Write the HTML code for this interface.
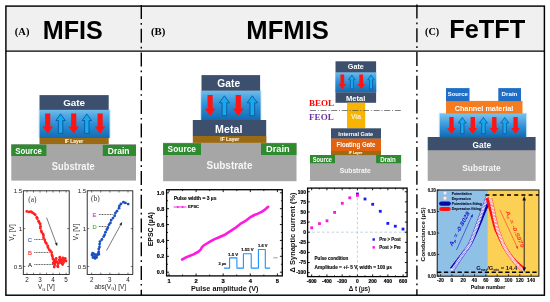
<!DOCTYPE html>
<html lang="en"><head><meta charset="utf-8"><title>FeFET synaptic devices: MFIS, MFMIS, FeTFT</title>
<style>html,body{margin:0;padding:0;background:#fff;}svg{display:block;}</style></head><body>
<svg width="550" height="302" viewBox="0 0 550 302">
<defs>
<linearGradient id="fe" x1="0" y1="0" x2="0" y2="1"><stop offset="0" stop-color="#74beea"/><stop offset="0.2" stop-color="#50a9e3"/><stop offset="0.5" stop-color="#2c90d6"/><stop offset="0.85" stop-color="#1a76be"/><stop offset="1" stop-color="#176aab"/></linearGradient>
<linearGradient id="fe2" x1="0" y1="0" x2="0" y2="1"><stop offset="0" stop-color="#7cc2ec"/><stop offset="0.25" stop-color="#5aaee4"/><stop offset="0.55" stop-color="#2f92d7"/><stop offset="0.85" stop-color="#1a78c0"/><stop offset="1" stop-color="#1668a8"/></linearGradient>
</defs>
<rect x="0.00" y="0.00" width="550.00" height="302.00" fill="#fff" />
<rect x="6.00" y="6.00" width="538.50" height="45.20" fill="#f0f0f0" />
<rect x="5.9" y="6.1" width="538.5" height="289.1" fill="none" stroke="#000" stroke-width="1.45"/>
<line x1="5.9" y1="51.2" x2="544.4" y2="51.2" stroke="#000" stroke-width="1.25"/>
<line x1="141.3" y1="5.0" x2="141.3" y2="295" stroke="#000" stroke-width="1.4" stroke-dasharray="14 4 1.7 4.02"/>
<line x1="416.9" y1="4.6" x2="416.9" y2="295" stroke="#000" stroke-width="1.4" stroke-dasharray="14 4 1.7 4.02"/>
<text x="14.80" y="35.20" font-size="10.4" fill="#000" font-weight="bold" font-family='"Liberation Serif", serif' text-anchor="start" textLength="14.60" lengthAdjust="spacingAndGlyphs" >(A)</text>
<text x="42.80" y="39.20" font-size="25.2" fill="#000" font-weight="bold" font-family='"Liberation Sans", sans-serif' text-anchor="start" textLength="60.00" lengthAdjust="spacingAndGlyphs" >MFIS</text>
<text x="151.00" y="35.20" font-size="10.4" fill="#000" font-weight="bold" font-family='"Liberation Serif", serif' text-anchor="start" textLength="14.40" lengthAdjust="spacingAndGlyphs" >(B)</text>
<text x="246.30" y="39.00" font-size="25.2" fill="#000" font-weight="bold" font-family='"Liberation Sans", sans-serif' text-anchor="start" textLength="82.60" lengthAdjust="spacingAndGlyphs" >MFMIS</text>
<text x="425.00" y="35.30" font-size="9.4" fill="#000" font-weight="bold" font-family='"Liberation Serif", serif' text-anchor="start" textLength="14.20" lengthAdjust="spacingAndGlyphs" >(C)</text>
<text x="449.20" y="38.20" font-size="25.4" fill="#000" font-weight="bold" font-family='"Liberation Sans", sans-serif' text-anchor="start" textLength="76.20" lengthAdjust="spacingAndGlyphs" >FeTFT</text>
<rect x="11.30" y="144.10" width="124.70" height="36.50" fill="#a6a6a6" />
<rect x="38.30" y="109.70" width="72.50" height="28.40" fill="#9fd0f0" opacity="0.35"/>
<rect x="39.50" y="109.70" width="70.10" height="28.40" fill="url(#fe)" />
<rect x="39.50" y="95.10" width="69.20" height="14.80" fill="#3c506e" />
<rect x="39.50" y="138.00" width="69.20" height="6.20" fill="#9b6a14" />
<rect x="11.30" y="144.60" width="35.10" height="11.40" fill="#2f8a30" />
<rect x="102.80" y="144.90" width="33.20" height="11.10" fill="#2f8a30" />
<polygon points="45.10,113.60 50.30,113.60 50.30,126.50 52.90,126.50 47.70,133.70 42.50,126.50 45.10,126.50" fill="#ff1414"/>
<polygon points="58.40,133.40 62.80,133.40 62.80,120.50 65.30,120.50 60.60,113.90 55.90,120.50 58.40,120.50" fill="#17a9ef" stroke="#0b4f94" stroke-width="0.8" stroke-linejoin="miter"/>
<polygon points="71.10,113.60 76.30,113.60 76.30,126.50 78.90,126.50 73.70,133.70 68.50,126.50 71.10,126.50" fill="#ff1414"/>
<polygon points="84.60,133.40 89.00,133.40 89.00,120.50 91.50,120.50 86.80,113.90 82.10,120.50 84.60,120.50" fill="#17a9ef" stroke="#0b4f94" stroke-width="0.8" stroke-linejoin="miter"/>
<polygon points="97.50,113.60 102.70,113.60 102.70,126.50 105.30,126.50 100.10,133.70 94.90,126.50 97.50,126.50" fill="#ff1414"/>
<text x="74.10" y="106.40" font-size="9.8" fill="#fff" font-weight="bold" font-family='"Liberation Sans", sans-serif' text-anchor="middle" textLength="21.90" lengthAdjust="spacingAndGlyphs" >Gate</text>
<text x="74.00" y="142.90" font-size="5.0" fill="#fbf0d8" font-weight="bold" font-family='"Liberation Sans", sans-serif' text-anchor="middle" stroke="#fbf0d8" stroke-width="0.12" textLength="18.50" lengthAdjust="spacingAndGlyphs" >IF Layer</text>
<text x="28.60" y="153.80" font-size="9.2" fill="#fff" font-weight="bold" font-family='"Liberation Sans", sans-serif' text-anchor="middle" textLength="26.60" lengthAdjust="spacingAndGlyphs" >Source</text>
<text x="118.60" y="153.80" font-size="9.2" fill="#fff" font-weight="bold" font-family='"Liberation Sans", sans-serif' text-anchor="middle" textLength="21.60" lengthAdjust="spacingAndGlyphs" >Drain</text>
<text x="73.30" y="169.50" font-size="10.4" fill="#f6f6f6" font-weight="bold" font-family='"Liberation Sans", sans-serif' text-anchor="middle" textLength="42.90" lengthAdjust="spacingAndGlyphs" >Substrate</text>
<rect x="163.10" y="142.80" width="133.40" height="38.40" fill="#a6a6a6" />
<rect x="200.00" y="90.40" width="61.80" height="29.80" fill="#9fd0f0" opacity="0.35"/>
<rect x="201.20" y="90.40" width="59.40" height="29.80" fill="url(#fe)" />
<rect x="201.50" y="75.10" width="58.60" height="15.60" fill="#3c506e" />
<rect x="192.80" y="120.00" width="73.40" height="16.20" fill="#3c506e" />
<rect x="192.80" y="136.00" width="73.60" height="6.90" fill="#9b6a14" />
<rect x="163.10" y="143.20" width="37.90" height="11.80" fill="#2f8a30" />
<rect x="261.00" y="143.20" width="35.50" height="11.80" fill="#2f8a30" />
<polygon points="207.50,95.00 212.70,95.00 212.70,108.40 215.50,108.40 210.10,116.00 204.70,108.40 207.50,108.40" fill="#ff1414"/>
<polygon points="222.10,115.70 226.70,115.70 226.70,102.80 229.50,102.80 224.40,95.80 219.30,102.80 222.10,102.80" fill="#17a9ef" stroke="#0b4f94" stroke-width="0.8" stroke-linejoin="miter"/>
<polygon points="235.70,95.00 240.90,95.00 240.90,108.40 243.70,108.40 238.30,116.00 232.90,108.40 235.70,108.40" fill="#ff1414"/>
<polygon points="250.00,115.70 254.60,115.70 254.60,102.80 257.40,102.80 252.30,95.80 247.20,102.80 250.00,102.80" fill="#17a9ef" stroke="#0b4f94" stroke-width="0.8" stroke-linejoin="miter"/>
<text x="228.70" y="87.00" font-size="10.2" fill="#fff" font-weight="bold" font-family='"Liberation Sans", sans-serif' text-anchor="middle" textLength="22.80" lengthAdjust="spacingAndGlyphs" >Gate</text>
<text x="228.70" y="132.80" font-size="10.4" fill="#fff" font-weight="bold" font-family='"Liberation Sans", sans-serif' text-anchor="middle" textLength="27.30" lengthAdjust="spacingAndGlyphs" >Metal</text>
<text x="229.80" y="141.30" font-size="5.0" fill="#fbf0d8" font-weight="bold" font-family='"Liberation Sans", sans-serif' text-anchor="middle" stroke="#fbf0d8" stroke-width="0.12" textLength="18.90" lengthAdjust="spacingAndGlyphs" >IF Layer</text>
<text x="181.80" y="152.40" font-size="9.4" fill="#fff" font-weight="bold" font-family='"Liberation Sans", sans-serif' text-anchor="middle" textLength="28.40" lengthAdjust="spacingAndGlyphs" >Source</text>
<text x="277.90" y="152.40" font-size="9.4" fill="#fff" font-weight="bold" font-family='"Liberation Sans", sans-serif' text-anchor="middle" textLength="23.60" lengthAdjust="spacingAndGlyphs" >Drain</text>
<text x="229.50" y="168.90" font-size="10.6" fill="#f6f6f6" font-weight="bold" font-family='"Liberation Sans", sans-serif' text-anchor="middle" textLength="46.00" lengthAdjust="spacingAndGlyphs" >Substrate</text>
<rect x="310.00" y="155.00" width="91.10" height="26.00" fill="#a6a6a6" />
<rect x="335.30" y="72.00" width="41.00" height="20.50" fill="url(#fe)" />
<rect x="335.50" y="61.30" width="40.60" height="11.00" fill="#3c506e" />
<rect x="335.50" y="92.30" width="40.60" height="10.50" fill="#3c506e" />
<rect x="347.00" y="102.70" width="18.20" height="25.70" fill="#f7b500" />
<rect x="331.00" y="128.30" width="50.00" height="10.50" fill="#3c506e" />
<rect x="331.00" y="138.70" width="50.00" height="12.40" fill="#e2620e" />
<rect x="331.00" y="151.00" width="50.00" height="4.10" fill="#9b6a14" />
<rect x="310.00" y="155.00" width="25.00" height="8.20" fill="#2f8a30" />
<rect x="376.10" y="155.00" width="25.00" height="8.20" fill="#2f8a30" />
<polygon points="340.40,74.50 344.20,74.50 344.20,84.00 346.10,84.00 342.30,89.20 338.50,84.00 340.40,84.00" fill="#ff1414"/>
<polygon points="350.40,89.00 353.40,89.00 353.40,79.80 355.20,79.80 351.90,75.00 348.60,79.80 350.40,79.80" fill="#17a9ef" stroke="#0b4f94" stroke-width="0.65" stroke-linejoin="miter"/>
<polygon points="359.30,74.50 363.10,74.50 363.10,84.00 365.00,84.00 361.20,89.20 357.40,84.00 359.30,84.00" fill="#ff1414"/>
<polygon points="369.50,89.00 372.50,89.00 372.50,79.80 374.30,79.80 371.00,75.00 367.70,79.80 369.50,79.80" fill="#17a9ef" stroke="#0b4f94" stroke-width="0.65" stroke-linejoin="miter"/>
<text x="355.80" y="69.30" font-size="6.9" fill="#fff" font-weight="bold" font-family='"Liberation Sans", sans-serif' text-anchor="middle" textLength="16.00" lengthAdjust="spacingAndGlyphs" >Gate</text>
<text x="355.60" y="100.50" font-size="6.9" fill="#fff" font-weight="bold" font-family='"Liberation Sans", sans-serif' text-anchor="middle" textLength="19.40" lengthAdjust="spacingAndGlyphs" >Metal</text>
<text x="356.00" y="118.70" font-size="6.6" fill="#fff3d0" font-weight="bold" font-family='"Liberation Sans", sans-serif' text-anchor="middle" textLength="10.00" lengthAdjust="spacingAndGlyphs" >Via</text>
<text x="355.80" y="136.30" font-size="5.4" fill="#fff" font-weight="bold" font-family='"Liberation Sans", sans-serif' text-anchor="middle" textLength="35.00" lengthAdjust="spacingAndGlyphs" >Internal Gate</text>
<text x="356.00" y="147.00" font-size="6.4" fill="#fff" font-weight="bold" font-family='"Liberation Sans", sans-serif' text-anchor="middle" textLength="39.00" lengthAdjust="spacingAndGlyphs" >Floating Gate</text>
<text x="355.60" y="154.40" font-size="3.5" fill="#fbf0d8" font-weight="bold" font-family='"Liberation Sans", sans-serif' text-anchor="middle" stroke="#fbf0d8" stroke-width="0.1" textLength="13.50" lengthAdjust="spacingAndGlyphs" >IF Layer</text>
<text x="322.40" y="161.70" font-size="6.3" fill="#fff" font-weight="bold" font-family='"Liberation Sans", sans-serif' text-anchor="middle" textLength="19.20" lengthAdjust="spacingAndGlyphs" >Source</text>
<text x="388.00" y="161.70" font-size="6.3" fill="#fff" font-weight="bold" font-family='"Liberation Sans", sans-serif' text-anchor="middle" textLength="15.70" lengthAdjust="spacingAndGlyphs" >Drain</text>
<text x="355.20" y="172.80" font-size="7.2" fill="#f6f6f6" font-weight="bold" font-family='"Liberation Sans", sans-serif' text-anchor="middle" textLength="31.00" lengthAdjust="spacingAndGlyphs" >Substrate</text>
<text x="309.10" y="106.30" font-size="8.6" fill="#ff0000" font-weight="bold" font-family='"Liberation Serif", serif' text-anchor="start" textLength="25.00" lengthAdjust="spacingAndGlyphs" >BEOL</text>
<text x="309.10" y="119.60" font-size="8.6" fill="#7030a0" font-weight="bold" font-family='"Liberation Serif", serif' text-anchor="start" textLength="24.60" lengthAdjust="spacingAndGlyphs" >FEOL</text>
<line x1="310" y1="110.5" x2="402" y2="110.5" stroke="#555" stroke-width="0.75" stroke-dasharray="6 1.8 1 1.8"/>
<rect x="427.70" y="150.00" width="107.90" height="30.90" fill="#a6a6a6" />
<rect x="427.70" y="137.00" width="107.90" height="13.20" fill="#3c506e" />
<rect x="438.60" y="112.60" width="88.70" height="24.60" fill="#9fd0f0" opacity="0.35"/>
<rect x="439.70" y="113.40" width="86.50" height="23.80" fill="url(#fe2)" />
<rect x="446.00" y="100.90" width="76.50" height="12.80" fill="#f57c1f" />
<rect x="446.00" y="88.10" width="23.50" height="13.00" fill="#1f6ec6" />
<rect x="498.30" y="88.10" width="22.70" height="13.00" fill="#1f6ec6" />
<polygon points="449.30,117.00 453.70,117.00 453.70,128.00 455.90,128.00 451.50,134.00 447.10,128.00 449.30,128.00" fill="#ff1414"/>
<polygon points="460.60,133.70 464.00,133.70 464.00,123.00 466.30,123.00 462.30,117.40 458.30,123.00 460.60,123.00" fill="#17a9ef" stroke="#0b4f94" stroke-width="0.7" stroke-linejoin="miter"/>
<polygon points="470.60,117.00 475.00,117.00 475.00,128.00 477.20,128.00 472.80,134.00 468.40,128.00 470.60,128.00" fill="#ff1414"/>
<polygon points="481.70,133.70 485.10,133.70 485.10,123.00 487.40,123.00 483.40,117.40 479.40,123.00 481.70,123.00" fill="#17a9ef" stroke="#0b4f94" stroke-width="0.7" stroke-linejoin="miter"/>
<polygon points="492.10,117.00 496.50,117.00 496.50,128.00 498.70,128.00 494.30,134.00 489.90,128.00 492.10,128.00" fill="#ff1414"/>
<polygon points="503.00,133.70 506.40,133.70 506.40,123.00 508.70,123.00 504.70,117.40 500.70,123.00 503.00,123.00" fill="#17a9ef" stroke="#0b4f94" stroke-width="0.7" stroke-linejoin="miter"/>
<polygon points="513.40,117.00 517.80,117.00 517.80,128.00 520.00,128.00 515.60,134.00 511.20,128.00 513.40,128.00" fill="#ff1414"/>
<text x="457.80" y="96.30" font-size="6.2" fill="#fff" font-weight="bold" font-family='"Liberation Sans", sans-serif' text-anchor="middle" textLength="20.20" lengthAdjust="spacingAndGlyphs" >Source</text>
<text x="509.50" y="96.30" font-size="6.2" fill="#fff" font-weight="bold" font-family='"Liberation Sans", sans-serif' text-anchor="middle" textLength="15.80" lengthAdjust="spacingAndGlyphs" >Drain</text>
<text x="484.00" y="110.50" font-size="7.6" fill="#fff" font-weight="bold" font-family='"Liberation Sans", sans-serif' text-anchor="middle" textLength="58.70" lengthAdjust="spacingAndGlyphs" >Channel material</text>
<text x="481.80" y="147.70" font-size="8.3" fill="#fff" font-weight="bold" font-family='"Liberation Sans", sans-serif' text-anchor="middle" textLength="18.60" lengthAdjust="spacingAndGlyphs" >Gate</text>
<text x="481.40" y="171.10" font-size="8.8" fill="#f6f6f6" font-weight="bold" font-family='"Liberation Sans", sans-serif' text-anchor="middle" textLength="38.20" lengthAdjust="spacingAndGlyphs" >Substrate</text>
<rect x="23.30" y="190.80" width="45.90" height="83.70" fill="none" stroke="#111" stroke-width="0.85"/>
<path d="M27.00 274.50v-1.80M33.52 274.50v-1.80M40.03 274.50v-1.80M46.55 274.50v-1.80M53.06 274.50v-1.80M59.57 274.50v-1.80M66.09 274.50v-1.80" stroke="#222" stroke-width="0.6" fill="none"/>
<path d="M27.00 190.80v1.80M33.52 190.80v1.80M40.03 190.80v1.80M46.55 190.80v1.80M53.06 190.80v1.80M59.57 190.80v1.80M66.09 190.80v1.80" stroke="#222" stroke-width="0.6" fill="none"/>
<path d="M23.30 266.50h2.00M23.30 228.60h2.00" stroke="#222" stroke-width="0.6" fill="none"/>
<path d="M69.20 266.50h-2.00M69.20 228.60h-2.00" stroke="#222" stroke-width="0.6" fill="none"/>
<text x="22.30" y="193.00" font-size="6.2" fill="#222" font-weight="normal" font-family='"Liberation Sans", sans-serif' text-anchor="end" >1.5</text>
<text x="22.30" y="230.80" font-size="6.2" fill="#222" font-weight="normal" font-family='"Liberation Sans", sans-serif' text-anchor="end" >1</text>
<text x="22.30" y="269.20" font-size="6.2" fill="#222" font-weight="normal" font-family='"Liberation Sans", sans-serif' text-anchor="end" >0.5</text>
<text x="27.00" y="282.00" font-size="6.3" fill="#222" font-weight="normal" font-family='"Liberation Sans", sans-serif' text-anchor="middle" >2</text>
<text x="40.03" y="282.00" font-size="6.3" fill="#222" font-weight="normal" font-family='"Liberation Sans", sans-serif' text-anchor="middle" >3</text>
<text x="53.06" y="282.00" font-size="6.3" fill="#222" font-weight="normal" font-family='"Liberation Sans", sans-serif' text-anchor="middle" >4</text>
<text x="66.09" y="282.00" font-size="6.3" fill="#222" font-weight="normal" font-family='"Liberation Sans", sans-serif' text-anchor="middle" >5</text>
<text x="46.4" y="289.2" font-size="6.4" fill="#222" font-family='"Liberation Sans", sans-serif' text-anchor="middle">V<tspan font-size="4" dy="1.3">G</tspan><tspan dy="-1.3"> [V]</tspan></text>
<text transform="translate(14.2 232.5) rotate(-90)" font-size="6.4" fill="#222" font-family='"Liberation Sans", sans-serif' text-anchor="middle">V<tspan font-size="4" dy="1.3">T</tspan><tspan dy="-1.3"> [V]</tspan></text>
<text x="28.20" y="202.00" font-size="7.4" fill="#333" font-weight="normal" font-family='"Liberation Serif", serif' text-anchor="start" >(a)</text>
<g fill="#ff1f1f">
<path d="M26.8 211.4 L29.1 211.9 L30.9 211.6 L32.2 212.5 L33.8 213.6 L35.2 214.7 L36.8 217.3 L37.2 218.5 L38.6 221.2 L39.2 222.5 L40.2 224.0 L40.5 226.3 L40.3 228.1 L41.2 230.8 L41.8 232.4 L43.1 234.1 L43.5 235.7 L43.5 237.8 L44.8 240.0 L45.3 242.1 L46.4 243.5 L47.7 245.8 L48.0 247.5 L49.2 249.7 L50.4 250.8 L51.6 252.4 L51.9 255.0 L52.4 256.5 L52.9 258.7 L54.1 260.6 L53.2 263.0 L54.0 260.0 L54.6 265.0 L55.4 261.5 L56.2 258.5 L57.0 262.0 L57.6 266.0 L58.4 263.5 L59.2 260.0 L59.8 257.2 L60.6 259.5 L61.4 263.0 L62.0 260.5 L62.8 258.0 L63.6 262.5 L64.4 260.0 L65.2 258.5 L66.0 261.0" fill="none" stroke="#ff1f1f" stroke-width="0.7"/>
<circle cx="26.8" cy="211.4" r="1.4"/>
<circle cx="29.1" cy="211.9" r="1.4"/>
<circle cx="30.9" cy="211.6" r="1.4"/>
<circle cx="32.2" cy="212.5" r="1.4"/>
<circle cx="33.8" cy="213.6" r="1.4"/>
<circle cx="35.2" cy="214.7" r="1.4"/>
<circle cx="36.8" cy="217.3" r="1.4"/>
<circle cx="37.2" cy="218.5" r="1.4"/>
<circle cx="38.6" cy="221.2" r="1.4"/>
<circle cx="39.2" cy="222.5" r="1.4"/>
<circle cx="40.2" cy="224.0" r="1.4"/>
<circle cx="40.5" cy="226.3" r="1.4"/>
<circle cx="40.3" cy="228.1" r="1.4"/>
<circle cx="41.2" cy="230.8" r="1.4"/>
<circle cx="41.8" cy="232.4" r="1.4"/>
<circle cx="43.1" cy="234.1" r="1.4"/>
<circle cx="43.5" cy="235.7" r="1.4"/>
<circle cx="43.5" cy="237.8" r="1.4"/>
<circle cx="44.8" cy="240.0" r="1.4"/>
<circle cx="45.3" cy="242.1" r="1.4"/>
<circle cx="46.4" cy="243.5" r="1.4"/>
<circle cx="47.7" cy="245.8" r="1.4"/>
<circle cx="48.0" cy="247.5" r="1.4"/>
<circle cx="49.2" cy="249.7" r="1.4"/>
<circle cx="50.4" cy="250.8" r="1.4"/>
<circle cx="51.6" cy="252.4" r="1.4"/>
<circle cx="51.9" cy="255.0" r="1.4"/>
<circle cx="52.4" cy="256.5" r="1.4"/>
<circle cx="52.9" cy="258.7" r="1.4"/>
<circle cx="54.1" cy="260.6" r="1.4"/>
<circle cx="53.2" cy="263.0" r="1.4"/>
<circle cx="54.0" cy="260.0" r="1.4"/>
<circle cx="54.6" cy="265.0" r="1.4"/>
<circle cx="55.4" cy="261.5" r="1.4"/>
<circle cx="56.2" cy="258.5" r="1.4"/>
<circle cx="57.0" cy="262.0" r="1.4"/>
<circle cx="57.6" cy="266.0" r="1.4"/>
<circle cx="58.4" cy="263.5" r="1.4"/>
<circle cx="59.2" cy="260.0" r="1.4"/>
<circle cx="59.8" cy="257.2" r="1.4"/>
<circle cx="60.6" cy="259.5" r="1.4"/>
<circle cx="61.4" cy="263.0" r="1.4"/>
<circle cx="62.0" cy="260.5" r="1.4"/>
<circle cx="62.8" cy="258.0" r="1.4"/>
<circle cx="63.6" cy="262.5" r="1.4"/>
<circle cx="64.4" cy="260.0" r="1.4"/>
<circle cx="65.2" cy="258.5" r="1.4"/>
<circle cx="66.0" cy="261.0" r="1.4"/>
<circle cx="55.0" cy="263.5" r="1.4"/>
<circle cx="60.2" cy="262.0" r="1.4"/>
<circle cx="62.6" cy="264.5" r="1.4"/>
<circle cx="58.0" cy="266.8" r="1.4"/>
<circle cx="54.2" cy="267.0" r="1.4"/>
</g>
<path d="M46.6 217.6L56.6 244.6" stroke="#222" stroke-width="0.6" fill="none"/><path d="M57.2 246.2L54.9 243.4L57.4 242.5Z" fill="#222"/>
<text x="29.90" y="241.60" font-size="5.8" fill="#3a55c8" font-weight="normal" font-family='"Liberation Sans", sans-serif' text-anchor="middle" stroke="#3a55c8" stroke-width="0.12" >C</text>
<line x1="34.3" y1="239.5" x2="43.5" y2="239.5" stroke="#333" stroke-width="0.8" stroke-dasharray="1 0.6"/>
<text x="29.90" y="254.60" font-size="5.8" fill="#ff2a2a" font-weight="normal" font-family='"Liberation Sans", sans-serif' text-anchor="middle" stroke="#ff2a2a" stroke-width="0.12" >B</text>
<line x1="34.3" y1="252.5" x2="49.5" y2="252.5" stroke="#333" stroke-width="0.8" stroke-dasharray="1 0.6"/>
<text x="29.90" y="266.60" font-size="5.8" fill="#222" font-weight="normal" font-family='"Liberation Sans", sans-serif' text-anchor="middle" stroke="#222" stroke-width="0.12" >A</text>
<line x1="34.3" y1="264.5" x2="53" y2="264.5" stroke="#333" stroke-width="0.8" stroke-dasharray="1 0.6"/>
<rect x="87.20" y="190.80" width="45.60" height="83.60" fill="none" stroke="#111" stroke-width="0.85"/>
<path d="M91.70 274.40v-1.80M100.78 274.40v-1.80M109.85 274.40v-1.80M118.92 274.40v-1.80M128.00 274.40v-1.80" stroke="#222" stroke-width="0.6" fill="none"/>
<path d="M91.70 190.80v1.80M100.78 190.80v1.80M109.85 190.80v1.80M118.92 190.80v1.80M128.00 190.80v1.80" stroke="#222" stroke-width="0.6" fill="none"/>
<path d="M87.20 266.50h2.00M87.20 228.60h2.00" stroke="#222" stroke-width="0.6" fill="none"/>
<path d="M132.80 266.50h-2.00M132.80 228.60h-2.00" stroke="#222" stroke-width="0.6" fill="none"/>
<text x="86.30" y="193.00" font-size="6.2" fill="#222" font-weight="normal" font-family='"Liberation Sans", sans-serif' text-anchor="end" >1.5</text>
<text x="86.30" y="230.80" font-size="6.2" fill="#222" font-weight="normal" font-family='"Liberation Sans", sans-serif' text-anchor="end" >1</text>
<text x="86.30" y="269.20" font-size="6.2" fill="#222" font-weight="normal" font-family='"Liberation Sans", sans-serif' text-anchor="end" >0.5</text>
<text x="91.70" y="282.00" font-size="6.3" fill="#222" font-weight="normal" font-family='"Liberation Sans", sans-serif' text-anchor="middle" >2</text>
<text x="109.85" y="282.00" font-size="6.3" fill="#222" font-weight="normal" font-family='"Liberation Sans", sans-serif' text-anchor="middle" >3</text>
<text x="128.00" y="282.00" font-size="6.3" fill="#222" font-weight="normal" font-family='"Liberation Sans", sans-serif' text-anchor="middle" >4</text>
<text x="110.2" y="289" font-size="6.4" fill="#222" font-family='"Liberation Sans", sans-serif' text-anchor="middle">abs(V<tspan font-size="4" dy="1.3">G</tspan><tspan dy="-1.3">) [V]</tspan></text>
<text transform="translate(77.9 232) rotate(-90)" font-size="6.4" fill="#222" font-family='"Liberation Sans", sans-serif' text-anchor="middle">V<tspan font-size="4" dy="1.3">T</tspan><tspan dy="-1.3"> [V]</tspan></text>
<text x="91.00" y="200.60" font-size="7.4" fill="#333" font-weight="normal" font-family='"Liberation Serif", serif' text-anchor="start" >(b)</text>
<g fill="#1c4fc0">
<path d="M92.0 255.0 L93.0 257.5 L93.8 254.0 L94.8 256.8 L95.6 254.6 L96.6 257.4 L97.4 255.0 L98.2 253.5 L98.8 254.3 L98.7 251.9 L98.8 249.1 L99.5 247.0 L99.6 244.1 L100.0 241.6 L101.9 239.5 L103.7 236.6 L104.6 234.8 L105.5 232.2 L106.9 229.5 L107.9 227.7 L109.0 224.7 L110.4 222.9 L111.2 220.1 L113.0 218.1 L114.7 215.8 L115.4 213.1 L116.9 211.2 L119.0 208.2 L119.4 205.9 L120.9 204.0 L123.4 202.2 L125.3 202.9 L128.2 204.1" fill="none" stroke="#1c4fc0" stroke-width="0.7"/>
<circle cx="98.8" cy="254.3" r="1.4"/>
<circle cx="98.7" cy="251.9" r="1.4"/>
<circle cx="98.8" cy="249.1" r="1.4"/>
<circle cx="99.5" cy="247.0" r="1.4"/>
<circle cx="99.6" cy="244.1" r="1.4"/>
<circle cx="100.0" cy="241.6" r="1.4"/>
<circle cx="101.9" cy="239.5" r="1.4"/>
<circle cx="103.7" cy="236.6" r="1.4"/>
<circle cx="104.6" cy="234.8" r="1.4"/>
<circle cx="105.5" cy="232.2" r="1.4"/>
<circle cx="106.9" cy="229.5" r="1.4"/>
<circle cx="107.9" cy="227.7" r="1.4"/>
<circle cx="109.0" cy="224.7" r="1.4"/>
<circle cx="110.4" cy="222.9" r="1.4"/>
<circle cx="111.2" cy="220.1" r="1.4"/>
<circle cx="113.0" cy="218.1" r="1.4"/>
<circle cx="114.7" cy="215.8" r="1.4"/>
<circle cx="115.4" cy="213.1" r="1.4"/>
<circle cx="116.9" cy="211.2" r="1.4"/>
<circle cx="119.0" cy="208.2" r="1.4"/>
<circle cx="119.4" cy="205.9" r="1.4"/>
<circle cx="120.9" cy="204.0" r="1.4"/>
<circle cx="123.4" cy="202.2" r="1.4"/>
<circle cx="125.3" cy="202.9" r="1.4"/>
<circle cx="128.2" cy="204.1" r="1.4"/>
<circle cx="92.0" cy="255.0" r="1.4"/>
<circle cx="93.0" cy="257.5" r="1.4"/>
<circle cx="93.8" cy="254.0" r="1.4"/>
<circle cx="94.8" cy="256.8" r="1.4"/>
<circle cx="95.6" cy="254.6" r="1.4"/>
<circle cx="96.6" cy="257.4" r="1.4"/>
<circle cx="97.4" cy="255.0" r="1.4"/>
<circle cx="98.2" cy="253.5" r="1.4"/>
<circle cx="92.6" cy="253.2" r="1.4"/>
<circle cx="95.0" cy="258.4" r="1.4"/>
</g>
<path d="M106.5 250.6L121.3 223.6" stroke="#222" stroke-width="0.6" fill="none"/><path d="M122.2 222L121.6 225.6L119.3 224.3Z" fill="#222"/>
<text x="94.50" y="216.60" font-size="5.8" fill="#d040b0" font-weight="normal" font-family='"Liberation Sans", sans-serif' text-anchor="middle" stroke="#d040b0" stroke-width="0.12" >E</text>
<line x1="98.8" y1="214.5" x2="113.5" y2="214.5" stroke="#333" stroke-width="0.8" stroke-dasharray="1 0.6"/>
<text x="94.50" y="228.60" font-size="5.8" fill="#3cb43c" font-weight="normal" font-family='"Liberation Sans", sans-serif' text-anchor="middle" stroke="#3cb43c" stroke-width="0.12" >D</text>
<line x1="98.8" y1="226.5" x2="108" y2="226.5" stroke="#333" stroke-width="0.8" stroke-dasharray="1 0.6"/>
<rect x="166.60" y="189.70" width="115.70" height="86.20" fill="none" stroke="#000" stroke-width="1.3"/>
<path d="M169.00 275.90v-2.40M196.10 275.90v-2.40M223.20 275.90v-2.40M250.30 275.90v-2.40M277.40 275.90v-2.40" stroke="#000" stroke-width="0.9" fill="none"/>
<path d="M182.55 275.90v-1.40M209.65 275.90v-1.40M236.75 275.90v-1.40M263.85 275.90v-1.40" stroke="#000" stroke-width="0.8" fill="none"/>
<path d="M169.00 189.70v2.40M196.10 189.70v2.40M223.20 189.70v2.40M250.30 189.70v2.40M277.40 189.70v2.40" stroke="#000" stroke-width="0.9" fill="none"/>
<path d="M182.55 189.70v1.40M209.65 189.70v1.40M236.75 189.70v1.40M263.85 189.70v1.40" stroke="#000" stroke-width="0.8" fill="none"/>
<path d="M166.60 272.20h2.40M166.60 256.32h2.40M166.60 240.44h2.40M166.60 224.56h2.40M166.60 208.68h2.40M166.60 192.80h2.40" stroke="#000" stroke-width="0.9" fill="none"/>
<path d="M166.60 264.26h1.40M166.60 248.38h1.40M166.60 232.50h1.40M166.60 216.62h1.40M166.60 200.74h1.40" stroke="#000" stroke-width="0.8" fill="none"/>
<path d="M282.30 272.20h-2.40M282.30 256.32h-2.40M282.30 240.44h-2.40M282.30 224.56h-2.40M282.30 208.68h-2.40M282.30 192.80h-2.40" stroke="#000" stroke-width="0.9" fill="none"/>
<path d="M282.30 264.26h-1.40M282.30 248.38h-1.40M282.30 232.50h-1.40M282.30 216.62h-1.40M282.30 200.74h-1.40" stroke="#000" stroke-width="0.8" fill="none"/>
<text x="164.30" y="274.30" font-size="5.8" fill="#000" font-weight="bold" font-family='"Liberation Sans", sans-serif' text-anchor="end" stroke="#000" stroke-width="0.2" textLength="7.60" lengthAdjust="spacingAndGlyphs" >0.0</text>
<text x="164.30" y="258.42" font-size="5.8" fill="#000" font-weight="bold" font-family='"Liberation Sans", sans-serif' text-anchor="end" stroke="#000" stroke-width="0.2" textLength="7.60" lengthAdjust="spacingAndGlyphs" >0.2</text>
<text x="164.30" y="242.54" font-size="5.8" fill="#000" font-weight="bold" font-family='"Liberation Sans", sans-serif' text-anchor="end" stroke="#000" stroke-width="0.2" textLength="7.60" lengthAdjust="spacingAndGlyphs" >0.4</text>
<text x="164.30" y="226.66" font-size="5.8" fill="#000" font-weight="bold" font-family='"Liberation Sans", sans-serif' text-anchor="end" stroke="#000" stroke-width="0.2" textLength="7.60" lengthAdjust="spacingAndGlyphs" >0.6</text>
<text x="164.30" y="210.78" font-size="5.8" fill="#000" font-weight="bold" font-family='"Liberation Sans", sans-serif' text-anchor="end" stroke="#000" stroke-width="0.2" textLength="7.60" lengthAdjust="spacingAndGlyphs" >0.8</text>
<text x="164.30" y="194.90" font-size="5.8" fill="#000" font-weight="bold" font-family='"Liberation Sans", sans-serif' text-anchor="end" stroke="#000" stroke-width="0.2" textLength="7.60" lengthAdjust="spacingAndGlyphs" >1.0</text>
<text x="169.00" y="283.20" font-size="5.8" fill="#000" font-weight="bold" font-family='"Liberation Sans", sans-serif' text-anchor="middle" stroke="#000" stroke-width="0.2" >1</text>
<text x="196.10" y="283.20" font-size="5.8" fill="#000" font-weight="bold" font-family='"Liberation Sans", sans-serif' text-anchor="middle" stroke="#000" stroke-width="0.2" >2</text>
<text x="223.20" y="283.20" font-size="5.8" fill="#000" font-weight="bold" font-family='"Liberation Sans", sans-serif' text-anchor="middle" stroke="#000" stroke-width="0.2" >3</text>
<text x="250.30" y="283.20" font-size="5.8" fill="#000" font-weight="bold" font-family='"Liberation Sans", sans-serif' text-anchor="middle" stroke="#000" stroke-width="0.2" >4</text>
<text x="277.40" y="283.20" font-size="5.8" fill="#000" font-weight="bold" font-family='"Liberation Sans", sans-serif' text-anchor="middle" stroke="#000" stroke-width="0.2" >5</text>
<text x="224.70" y="290.60" font-size="7.2" fill="#111" font-weight="bold" font-family='"Liberation Sans", sans-serif' text-anchor="middle" textLength="67.40" lengthAdjust="spacingAndGlyphs" >Pulse amplitude (V)</text>
<text transform="translate(153.4 229.2) rotate(-90)" font-size="7.6" fill="#000" font-weight="bold" font-family='"Liberation Sans", sans-serif' text-anchor="middle" textLength="34.2" lengthAdjust="spacingAndGlyphs">EPSC (µA)</text>
<text x="173.70" y="199.60" font-size="4.9" fill="#111" font-weight="bold" font-family='"Liberation Sans", sans-serif' text-anchor="start" stroke="#111" stroke-width="0.18" textLength="42.70" lengthAdjust="spacingAndGlyphs" >Pulse width = 3 µs</text>
<line x1="173.7" y1="207" x2="186.5" y2="207" stroke="#ff1adf" stroke-width="1.0"/><circle cx="177.8" cy="207" r="0.95" fill="#ff1adf"/><circle cx="182.6" cy="207" r="0.95" fill="#ff1adf"/>
<text x="188.00" y="208.40" font-size="3.9" fill="#111" font-weight="bold" font-family='"Liberation Sans", sans-serif' text-anchor="start" stroke="#111" stroke-width="0.15" textLength="11.00" lengthAdjust="spacingAndGlyphs" >EPSC</text>
<path d="M182.2 259.5 L186.0 257.4 L190.0 255.8 L193.0 254.6 L196.0 253.0 L198.5 251.6 L200.4 250.0 L201.6 247.8 L203.0 246.0 L206.0 244.0 L210.0 241.6 L214.0 239.4 L218.0 237.8 L222.0 236.0 L225.0 234.7 L230.0 231.4 L235.0 228.2 L241.2 223.3 L246.0 220.6 L250.0 217.4 L254.4 215.0 L258.0 213.6 L262.0 211.6 L265.0 209.6 L268.2 206.8" fill="none" stroke="#ff1adf" stroke-width="2.6" stroke-linecap="round" stroke-linejoin="round"/>
<path d="M224 268.1H229.6V257.9H236.9V268.1H243.4V253.8H251.2V268.1H258.4V249.5H265.3V268.1H270.1" fill="none" stroke="#1e90ff" stroke-width="1.1" stroke-linejoin="round"/>
<text x="233.20" y="255.60" font-size="3.7" fill="#111" font-weight="bold" font-family='"Liberation Sans", sans-serif' text-anchor="middle" stroke="#111" stroke-width="0.15" textLength="10.20" lengthAdjust="spacingAndGlyphs" >1.5 V</text>
<text x="247.40" y="251.30" font-size="3.7" fill="#111" font-weight="bold" font-family='"Liberation Sans", sans-serif' text-anchor="middle" stroke="#111" stroke-width="0.15" textLength="12.40" lengthAdjust="spacingAndGlyphs" >1.55 V</text>
<text x="262.80" y="247.10" font-size="3.7" fill="#111" font-weight="bold" font-family='"Liberation Sans", sans-serif' text-anchor="middle" stroke="#111" stroke-width="0.15" textLength="9.60" lengthAdjust="spacingAndGlyphs" >1.6 V</text>
<text x="222.30" y="264.60" font-size="3.7" fill="#111" font-weight="bold" font-family='"Liberation Sans", sans-serif' text-anchor="middle" stroke="#111" stroke-width="0.15" textLength="7.60" lengthAdjust="spacingAndGlyphs" >3 µs</text>
<line x1="273.3" y1="257.8" x2="277.7" y2="257.8" stroke="#777" stroke-width="0.7"/>
<rect x="307.60" y="188.10" width="99.50" height="88.50" fill="none" stroke="#000" stroke-width="1.3"/>
<line x1="357.4" y1="188.1" x2="357.4" y2="276.6" stroke="#a9c0d0" stroke-width="0.7" stroke-dasharray="2.6 2.2"/>
<line x1="307.6" y1="232.2" x2="407.1" y2="232.2" stroke="#a9c0d0" stroke-width="0.7" stroke-dasharray="2.6 2.2"/>
<path d="M311.68 276.60v-2.20M326.92 276.60v-2.20M342.16 276.60v-2.20M357.40 276.60v-2.20M372.64 276.60v-2.20M387.88 276.60v-2.20M403.12 276.60v-2.20" stroke="#000" stroke-width="0.9" fill="none"/>
<path d="M319.30 276.60v-1.30M334.54 276.60v-1.30M349.78 276.60v-1.30M365.02 276.60v-1.30M380.26 276.60v-1.30M395.50 276.60v-1.30" stroke="#000" stroke-width="0.8" fill="none"/>
<path d="M311.68 188.10v2.20M326.92 188.10v2.20M342.16 188.10v2.20M357.40 188.10v2.20M372.64 188.10v2.20M387.88 188.10v2.20M403.12 188.10v2.20" stroke="#000" stroke-width="0.9" fill="none"/>
<path d="M319.30 188.10v1.30M334.54 188.10v1.30M349.78 188.10v1.30M365.02 188.10v1.30M380.26 188.10v1.30M395.50 188.10v1.30" stroke="#000" stroke-width="0.8" fill="none"/>
<path d="M307.60 272.65h2.20M307.60 262.54h2.20M307.60 252.42h2.20M307.60 242.31h2.20M307.60 232.20h2.20M307.60 222.09h2.20M307.60 211.97h2.20M307.60 201.86h2.20M307.60 191.75h2.20" stroke="#000" stroke-width="0.9" fill="none"/>
<path d="M407.10 272.65h-2.20M407.10 262.54h-2.20M407.10 252.42h-2.20M407.10 242.31h-2.20M407.10 232.20h-2.20M407.10 222.09h-2.20M407.10 211.97h-2.20M407.10 201.86h-2.20M407.10 191.75h-2.20" stroke="#000" stroke-width="0.9" fill="none"/>
<text x="306.00" y="274.45" font-size="4.9" fill="#000" font-weight="bold" font-family='"Liberation Sans", sans-serif' text-anchor="end" stroke="#000" stroke-width="0.18" >-100</text>
<text x="306.00" y="264.34" font-size="4.9" fill="#000" font-weight="bold" font-family='"Liberation Sans", sans-serif' text-anchor="end" stroke="#000" stroke-width="0.18" >-75</text>
<text x="306.00" y="254.22" font-size="4.9" fill="#000" font-weight="bold" font-family='"Liberation Sans", sans-serif' text-anchor="end" stroke="#000" stroke-width="0.18" >-50</text>
<text x="306.00" y="244.11" font-size="4.9" fill="#000" font-weight="bold" font-family='"Liberation Sans", sans-serif' text-anchor="end" stroke="#000" stroke-width="0.18" >-25</text>
<text x="306.00" y="234.00" font-size="4.9" fill="#000" font-weight="bold" font-family='"Liberation Sans", sans-serif' text-anchor="end" stroke="#000" stroke-width="0.18" >0</text>
<text x="306.00" y="223.89" font-size="4.9" fill="#000" font-weight="bold" font-family='"Liberation Sans", sans-serif' text-anchor="end" stroke="#000" stroke-width="0.18" >25</text>
<text x="306.00" y="213.78" font-size="4.9" fill="#000" font-weight="bold" font-family='"Liberation Sans", sans-serif' text-anchor="end" stroke="#000" stroke-width="0.18" >50</text>
<text x="306.00" y="203.66" font-size="4.9" fill="#000" font-weight="bold" font-family='"Liberation Sans", sans-serif' text-anchor="end" stroke="#000" stroke-width="0.18" >75</text>
<text x="306.00" y="193.55" font-size="4.9" fill="#000" font-weight="bold" font-family='"Liberation Sans", sans-serif' text-anchor="end" stroke="#000" stroke-width="0.18" >100</text>
<text x="311.68" y="282.80" font-size="4.9" fill="#000" font-weight="bold" font-family='"Liberation Sans", sans-serif' text-anchor="middle" stroke="#000" stroke-width="0.18" >-600</text>
<text x="326.92" y="282.80" font-size="4.9" fill="#000" font-weight="bold" font-family='"Liberation Sans", sans-serif' text-anchor="middle" stroke="#000" stroke-width="0.18" >-400</text>
<text x="342.16" y="282.80" font-size="4.9" fill="#000" font-weight="bold" font-family='"Liberation Sans", sans-serif' text-anchor="middle" stroke="#000" stroke-width="0.18" >-200</text>
<text x="357.40" y="282.80" font-size="4.9" fill="#000" font-weight="bold" font-family='"Liberation Sans", sans-serif' text-anchor="middle" stroke="#000" stroke-width="0.18" >0</text>
<text x="372.64" y="282.80" font-size="4.9" fill="#000" font-weight="bold" font-family='"Liberation Sans", sans-serif' text-anchor="middle" stroke="#000" stroke-width="0.18" >200</text>
<text x="387.88" y="282.80" font-size="4.9" fill="#000" font-weight="bold" font-family='"Liberation Sans", sans-serif' text-anchor="middle" stroke="#000" stroke-width="0.18" >400</text>
<text x="403.12" y="282.80" font-size="4.9" fill="#000" font-weight="bold" font-family='"Liberation Sans", sans-serif' text-anchor="middle" stroke="#000" stroke-width="0.18" >600</text>
<text x="359.40" y="291.40" font-size="7.4" fill="#111" font-weight="bold" font-family='"Liberation Sans", sans-serif' text-anchor="middle" textLength="21.50" lengthAdjust="spacingAndGlyphs" >Δ t (µs)</text>
<text transform="translate(295.4 232.4) rotate(-90)" font-size="7.2" fill="#111" font-weight="bold" font-family='"Liberation Sans", sans-serif' text-anchor="middle" textLength="80" lengthAdjust="spacingAndGlyphs">Δ Synaptic current (%)</text>
<rect x="356.00" y="192.60" width="2.80" height="2.80" fill="#1a1aff" />
<rect x="363.60" y="197.60" width="2.80" height="2.80" fill="#1a1aff" />
<rect x="371.30" y="202.90" width="2.80" height="2.80" fill="#1a1aff" />
<rect x="378.90" y="209.90" width="2.80" height="2.80" fill="#1a1aff" />
<rect x="386.40" y="222.00" width="2.80" height="2.80" fill="#1a1aff" />
<rect x="393.90" y="224.80" width="2.80" height="2.80" fill="#1a1aff" />
<rect x="401.60" y="227.70" width="2.80" height="2.80" fill="#1a1aff" />
<rect x="310.30" y="226.40" width="2.80" height="2.80" fill="#ff14dc" />
<rect x="318.10" y="222.20" width="2.80" height="2.80" fill="#ff14dc" />
<rect x="325.60" y="219.40" width="2.80" height="2.80" fill="#ff14dc" />
<rect x="333.20" y="211.00" width="2.80" height="2.80" fill="#ff14dc" />
<rect x="340.90" y="201.90" width="2.80" height="2.80" fill="#ff14dc" />
<rect x="348.40" y="196.40" width="2.80" height="2.80" fill="#ff14dc" />
<rect x="356.00" y="194.00" width="2.80" height="2.80" fill="#ff14dc" />
<rect x="372.50" y="238.30" width="2.40" height="2.40" fill="#1a1aff" />
<rect x="372.50" y="246.20" width="2.40" height="2.40" fill="#ff14dc" />
<text x="379.30" y="241.20" font-size="4.6" fill="#111" font-weight="bold" font-family='"Liberation Sans", sans-serif' text-anchor="start" stroke="#111" stroke-width="0.15" textLength="21.50" lengthAdjust="spacingAndGlyphs" >Pre &gt; Post</text>
<text x="379.30" y="249.00" font-size="4.6" fill="#111" font-weight="bold" font-family='"Liberation Sans", sans-serif' text-anchor="start" stroke="#111" stroke-width="0.15" textLength="21.50" lengthAdjust="spacingAndGlyphs" >Post &gt; Pre</text>
<text x="314.60" y="260.20" font-size="4.6" fill="#111" font-weight="bold" font-family='"Liberation Sans", sans-serif' text-anchor="start" stroke="#111" stroke-width="0.15" textLength="33.80" lengthAdjust="spacingAndGlyphs" >Pulse condition</text>
<text x="314.60" y="269.30" font-size="4.6" fill="#111" font-weight="bold" font-family='"Liberation Sans", sans-serif' text-anchor="start" stroke="#111" stroke-width="0.15" textLength="77.30" lengthAdjust="spacingAndGlyphs" >Amplitude = +/- 5 V, width = 100 µs</text>
<rect x="437.20" y="190.00" width="50.70" height="86.20" fill="#8fc1e6" />
<rect x="487.90" y="190.00" width="51.00" height="86.20" fill="#fbd054" />
<path d="M451.2 269.0 L451.8 268.2 L452.7 267.0 L453.7 265.7 L454.7 264.3 L455.7 263.0 L456.6 261.8 L457.5 260.7 L458.4 259.5 L459.3 258.3 L460.2 257.1 L461.1 255.9 L462.1 254.7 L463.0 253.5 L464.0 252.3 L464.9 251.1 L465.9 249.9 L466.9 248.7 L467.9 247.4 L468.8 246.1 L469.7 244.8 L470.5 243.4 L471.3 242.0 L472.0 240.6 L472.7 239.1 L473.4 237.7 L474.1 236.1 L474.8 234.6 L475.5 233.0 L476.3 231.3 L477.0 229.6 L477.8 227.9 L478.5 226.0 L479.3 224.1 L480.1 222.2 L480.9 220.3 L481.6 218.4 L482.4 216.4 L483.2 214.4 L484.0 212.5 L484.7 210.8 L485.3 209.3 L485.9 208.0 L486.5 206.8 L487.0 205.6 L487.5 204.3 L488.1 203.0 L488.7 201.6 L489.3 200.2 L489.8 199.0 L490.2 198.2" fill="none" stroke="#0808a8" stroke-width="3.2" stroke-linejoin="round"/>
<path d="M452.5 269.9 L453.0 269.0 L453.8 267.9 L454.7 266.5 L455.7 265.0 L456.6 263.7 L457.4 262.4 L458.2 261.2 L459.1 259.9 L459.9 258.7 L460.7 257.5 L461.6 256.2 L462.4 255.0 L463.3 253.8 L464.2 252.5 L465.1 251.2 L466.0 250.0 L466.9 248.7 L467.8 247.3 L468.7 246.0 L469.5 244.6 L470.2 243.2 L470.8 241.8 L471.5 240.4 L472.1 238.9 L472.7 237.4 L473.3 235.8 L474.0 234.2 L474.6 232.6 L475.2 230.9 L475.9 229.2 L476.5 227.4 L477.2 225.5 L477.9 223.6 L478.6 221.7 L479.3 219.7 L480.0 217.8 L480.7 215.7 L481.4 213.7 L482.1 211.8 L482.7 210.0 L483.2 208.5 L483.7 207.1 L484.2 205.9 L484.6 204.6 L485.1 203.4 L485.6 202.0 L486.1 200.5 L486.6 199.1 L487.0 197.9 L487.3 197.1" fill="none" stroke="#3532d0" stroke-width="3.7" stroke-linejoin="round"/>
<path d="M452.5 269.9 L453.0 269.0 L453.8 267.9 L454.7 266.5 L455.7 265.0 L456.6 263.7 L457.4 262.4 L458.2 261.2 L459.1 259.9 L459.9 258.7 L460.7 257.5 L461.6 256.2 L462.4 255.0 L463.3 253.8 L464.2 252.5 L465.1 251.2 L466.0 250.0 L466.9 248.7 L467.8 247.3 L468.7 246.0 L469.5 244.6 L470.2 243.2 L470.8 241.8 L471.5 240.4 L472.1 238.9 L472.7 237.4 L473.3 235.8 L474.0 234.2 L474.6 232.6 L475.2 230.9 L475.9 229.2 L476.5 227.4 L477.2 225.5 L477.9 223.6 L478.6 221.7 L479.3 219.7 L480.0 217.8 L480.7 215.7 L481.4 213.7 L482.1 211.8 L482.7 210.0 L483.2 208.5 L483.7 207.1 L484.2 205.9 L484.6 204.6 L485.1 203.4 L485.6 202.0 L486.1 200.5 L486.6 199.1 L487.0 197.9 L487.3 197.1" fill="none" stroke="#eceaff" stroke-width="2.9" stroke-dasharray="1.05 0.38"/>
<path d="M487.2 198.0 L487.4 198.9 L487.8 200.1 L488.2 201.5 L488.6 203.0 L489.0 204.4 L489.3 205.6 L489.7 206.7 L490.0 207.9 L490.4 209.1 L490.8 210.5 L491.2 212.1 L491.6 213.8 L492.0 215.6 L492.5 217.4 L493.0 219.2 L493.5 221.2 L494.0 223.2 L494.6 225.2 L495.1 227.0 L495.6 228.6 L496.0 229.9 L496.4 230.8 L496.8 231.6 L497.2 232.4 L497.6 233.2 L498.1 234.3 L498.6 235.3 L499.1 236.4 L499.6 237.5 L500.1 238.7 L500.7 239.8 L501.2 241.1 L501.8 242.3 L502.5 243.5 L503.1 244.8 L503.8 246.0 L504.6 247.3 L505.4 248.5 L506.2 249.7 L507.0 251.0 L507.9 252.3 L508.9 253.6 L509.9 254.9 L510.8 256.1 L511.7 257.2 L512.4 258.1 L513.1 258.9 L513.8 259.6 L514.4 260.2 L515.0 260.9 L515.7 261.6 L516.4 262.3 L517.0 262.9 L517.7 263.5 L518.4 264.1 L519.0 264.7 L519.7 265.2 L520.3 265.8 L520.9 266.2 L521.5 266.7 L522.2 267.2 L523.0 267.6 L523.7 268.1 L524.3 268.4 L524.8 268.7" fill="none" stroke="#ff1010" stroke-width="3.2" stroke-linejoin="round"/>
<path d="M490.2 197.3 L490.3 198.1 L490.6 199.4 L490.9 200.8 L491.3 202.3 L491.6 203.7 L491.9 204.9 L492.1 206.1 L492.4 207.3 L492.7 208.5 L493.0 210.0 L493.4 211.6 L493.7 213.3 L494.1 215.1 L494.4 217.0 L494.8 218.8 L495.3 220.7 L495.7 222.8 L496.2 224.8 L496.7 226.6 L497.1 228.2 L497.4 229.4 L497.7 230.3 L498.0 231.1 L498.3 231.9 L498.7 232.8 L499.1 233.8 L499.5 234.9 L499.9 236.0 L500.3 237.2 L500.8 238.4 L501.3 239.6 L501.8 240.8 L502.3 242.1 L502.9 243.4 L503.4 244.6 L504.1 245.9 L504.8 247.2 L505.5 248.4 L506.2 249.7 L507.0 251.0 L507.8 252.3 L508.7 253.7 L509.7 255.0 L510.5 256.3 L511.3 257.4 L512.0 258.4 L512.7 259.2 L513.3 260.0 L513.8 260.7 L514.4 261.4 L515.0 262.2 L515.7 262.9 L516.3 263.6 L516.9 264.3 L517.5 265.0 L518.1 265.6 L518.7 266.2 L519.3 266.8 L519.9 267.4 L520.6 268.0 L521.2 268.5 L522.0 269.1 L522.7 269.6 L523.3 270.0 L523.7 270.4" fill="none" stroke="#ff3c3c" stroke-width="3.7" stroke-linejoin="round"/>
<path d="M490.2 197.3 L490.3 198.1 L490.6 199.4 L490.9 200.8 L491.3 202.3 L491.6 203.7 L491.9 204.9 L492.1 206.1 L492.4 207.3 L492.7 208.5 L493.0 210.0 L493.4 211.6 L493.7 213.3 L494.1 215.1 L494.4 217.0 L494.8 218.8 L495.3 220.7 L495.7 222.8 L496.2 224.8 L496.7 226.6 L497.1 228.2 L497.4 229.4 L497.7 230.3 L498.0 231.1 L498.3 231.9 L498.7 232.8 L499.1 233.8 L499.5 234.9 L499.9 236.0 L500.3 237.2 L500.8 238.4 L501.3 239.6 L501.8 240.8 L502.3 242.1 L502.9 243.4 L503.4 244.6 L504.1 245.9 L504.8 247.2 L505.5 248.4 L506.2 249.7 L507.0 251.0 L507.8 252.3 L508.7 253.7 L509.7 255.0 L510.5 256.3 L511.3 257.4 L512.0 258.4 L512.7 259.2 L513.3 260.0 L513.8 260.7 L514.4 261.4 L515.0 262.2 L515.7 262.9 L516.3 263.6 L516.9 264.3 L517.5 265.0 L518.1 265.6 L518.7 266.2 L519.3 266.8 L519.9 267.4 L520.6 268.0 L521.2 268.5 L522.0 269.1 L522.7 269.6 L523.3 270.0 L523.7 270.4" fill="none" stroke="#fff0f0" stroke-width="2.9" stroke-dasharray="1.05 0.38"/>
<circle cx="451.9" cy="269.6" r="1.3" fill="#fff" stroke="#9a96e8" stroke-width="0.5"/>
<circle cx="524.2" cy="269.8" r="1.3" fill="#fff" stroke="#ffb0b0" stroke-width="0.5"/>
<line x1="485.4" y1="195" x2="538.9" y2="195" stroke="#000" stroke-width="1.5" stroke-dasharray="4 3.2"/>
<line x1="437.2" y1="272.2" x2="538.9" y2="272.2" stroke="#000" stroke-width="1.5" stroke-dasharray="4.2 2.6"/>
<line x1="524.2" y1="198" x2="524.2" y2="270" stroke="#222" stroke-width="1"/><path d="M524.2 196L526 200.4H522.4Z" fill="#111"/><path d="M524.2 272L526 267.6H522.4Z" fill="#111"/>
<rect x="437.20" y="190.00" width="101.70" height="86.20" fill="none" stroke="#111" stroke-width="1.0"/>
<path d="M440.59 276.20v-2.00M451.90 276.20v-2.00M463.21 276.20v-2.00M474.52 276.20v-2.00M485.83 276.20v-2.00M497.14 276.20v-2.00M508.45 276.20v-2.00M519.76 276.20v-2.00M531.07 276.20v-2.00" stroke="#111" stroke-width="0.8" fill="none"/>
<path d="M437.20 276.00h2.00M437.20 254.50h2.00M437.20 233.00h2.00M437.20 211.50h2.00M437.20 190.00h2.00" stroke="#111" stroke-width="0.8" fill="none"/>
<text x="435.90" y="277.70" font-size="4.8" fill="#111" font-weight="bold" font-family='"Liberation Sans", sans-serif' text-anchor="end" stroke="#111" stroke-width="0.15" textLength="8.20" lengthAdjust="spacingAndGlyphs" >0.00</text>
<text x="435.90" y="256.20" font-size="4.8" fill="#111" font-weight="bold" font-family='"Liberation Sans", sans-serif' text-anchor="end" stroke="#111" stroke-width="0.15" textLength="8.20" lengthAdjust="spacingAndGlyphs" >0.05</text>
<text x="435.90" y="234.70" font-size="4.8" fill="#111" font-weight="bold" font-family='"Liberation Sans", sans-serif' text-anchor="end" stroke="#111" stroke-width="0.15" textLength="8.20" lengthAdjust="spacingAndGlyphs" >0.10</text>
<text x="435.90" y="213.20" font-size="4.8" fill="#111" font-weight="bold" font-family='"Liberation Sans", sans-serif' text-anchor="end" stroke="#111" stroke-width="0.15" textLength="8.20" lengthAdjust="spacingAndGlyphs" >0.15</text>
<text x="435.90" y="191.70" font-size="4.8" fill="#111" font-weight="bold" font-family='"Liberation Sans", sans-serif' text-anchor="end" stroke="#111" stroke-width="0.15" textLength="8.20" lengthAdjust="spacingAndGlyphs" >0.20</text>
<text x="440.59" y="281.60" font-size="4.8" fill="#111" font-weight="bold" font-family='"Liberation Sans", sans-serif' text-anchor="middle" stroke="#111" stroke-width="0.15" >-20</text>
<text x="451.90" y="281.60" font-size="4.8" fill="#111" font-weight="bold" font-family='"Liberation Sans", sans-serif' text-anchor="middle" stroke="#111" stroke-width="0.15" >0</text>
<text x="463.21" y="281.60" font-size="4.8" fill="#111" font-weight="bold" font-family='"Liberation Sans", sans-serif' text-anchor="middle" stroke="#111" stroke-width="0.15" >20</text>
<text x="474.52" y="281.60" font-size="4.8" fill="#111" font-weight="bold" font-family='"Liberation Sans", sans-serif' text-anchor="middle" stroke="#111" stroke-width="0.15" >40</text>
<text x="485.83" y="281.60" font-size="4.8" fill="#111" font-weight="bold" font-family='"Liberation Sans", sans-serif' text-anchor="middle" stroke="#111" stroke-width="0.15" >60</text>
<text x="497.14" y="281.60" font-size="4.8" fill="#111" font-weight="bold" font-family='"Liberation Sans", sans-serif' text-anchor="middle" stroke="#111" stroke-width="0.15" >80</text>
<text x="508.45" y="281.60" font-size="4.8" fill="#111" font-weight="bold" font-family='"Liberation Sans", sans-serif' text-anchor="middle" stroke="#111" stroke-width="0.15" >100</text>
<text x="519.76" y="281.60" font-size="4.8" fill="#111" font-weight="bold" font-family='"Liberation Sans", sans-serif' text-anchor="middle" stroke="#111" stroke-width="0.15" >120</text>
<text x="531.07" y="281.60" font-size="4.8" fill="#111" font-weight="bold" font-family='"Liberation Sans", sans-serif' text-anchor="middle" stroke="#111" stroke-width="0.15" >140</text>
<text x="488.00" y="289.10" font-size="5.8" fill="#111" font-weight="bold" font-family='"Liberation Sans", sans-serif' text-anchor="middle" stroke="#111" stroke-width="0.12" textLength="34.40" lengthAdjust="spacingAndGlyphs" >Pulse number</text>
<text transform="translate(424.9 234.4) rotate(-90)" font-size="5.9" fill="#111" font-weight="bold" font-family='"Liberation Sans", sans-serif' text-anchor="middle" textLength="54" lengthAdjust="spacingAndGlyphs">Conductance (µS)</text>
<circle cx="445" cy="193.1" r="1.4" fill="#fff" stroke="#c8c4f4" stroke-width="0.5"/>
<rect x="443.7" y="196.9" width="2.6" height="2.8" fill="#fff" stroke="#ffb0a8" stroke-width="0.6"/>
<line x1="441.3" y1="203.6" x2="448.6" y2="203.6" stroke="#0808a8" stroke-width="4.4" stroke-linecap="round"/>
<line x1="441.3" y1="209" x2="448.6" y2="209" stroke="#ff1010" stroke-width="4.2" stroke-linecap="round"/>
<text x="451.80" y="194.60" font-size="4.3" fill="#0c1030" font-weight="bold" font-family='"Liberation Sans", sans-serif' text-anchor="start" stroke="#0c1030" stroke-width="0.12" textLength="20.00" lengthAdjust="spacingAndGlyphs" >Potentiation</text>
<text x="451.80" y="199.80" font-size="4.3" fill="#0c1030" font-weight="bold" font-family='"Liberation Sans", sans-serif' text-anchor="start" stroke="#0c1030" stroke-width="0.12" textLength="19.00" lengthAdjust="spacingAndGlyphs" >Depression</text>
<text x="451.80" y="205.00" font-size="4.3" fill="#0c1030" font-weight="bold" font-family='"Liberation Sans", sans-serif' text-anchor="start" stroke="#0c1030" stroke-width="0.12" textLength="30.10" lengthAdjust="spacingAndGlyphs" >Potentiation fitting</text>
<text x="451.80" y="210.20" font-size="4.3" fill="#0c1030" font-weight="bold" font-family='"Liberation Sans", sans-serif' text-anchor="start" stroke="#0c1030" stroke-width="0.12" textLength="29.00" lengthAdjust="spacingAndGlyphs" >Depression fitting</text>
<path d="M456.5 250L472 215.6" stroke="#1a1ac8" stroke-width="0.6" fill="none"/><path d="M472.8 213.8L472.6 217.4L470.6 216.5Z" fill="#1a1ac8"/>
<text transform="translate(452.2 246.4) rotate(-62)" font-size="5.7" fill="#1414d2" font-weight="bold" font-style="italic" font-family='"Liberation Sans", sans-serif' textLength="38" lengthAdjust="spacingAndGlyphs">A<tspan font-size="3.4" dy="1">p</tspan><tspan dy="-1"> = -0.8028</tspan></text>
<path d="M499.9 209.9L517.4 247.6" stroke="#ff3030" stroke-width="0.6" fill="none"/><path d="M518.2 249.4L515.7 246.8L517.8 245.9Z" fill="#ff3030"/>
<text transform="translate(505.4 211.8) rotate(66.5)" font-size="5.6" fill="#ff3a2a" font-weight="bold" font-style="italic" font-family='"Liberation Sans", sans-serif' textLength="39.5" lengthAdjust="spacingAndGlyphs">A<tspan font-size="3.4" dy="1">d</tspan><tspan dy="-1"> = -0.5979</tspan></text>
<text x="476.2" y="269.6" font-size="5.4" fill="#0c1030" font-weight="bold" font-family='"Liberation Sans", sans-serif' textLength="41" lengthAdjust="spacingAndGlyphs">G<tspan font-size="3" dy="1">max</tspan><tspan dy="-1">/G</tspan><tspan font-size="3" dy="1">min</tspan><tspan dy="-1"> = 14.4</tspan></text>
</svg></body></html>
